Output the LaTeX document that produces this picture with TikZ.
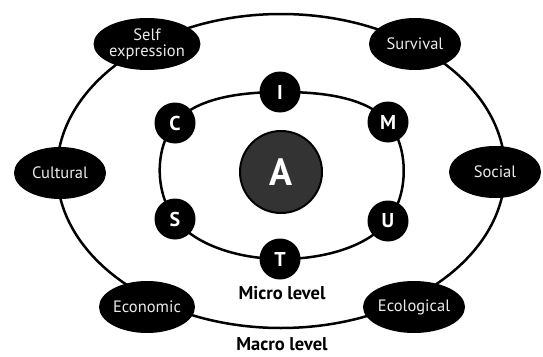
\documentclass[tikz,border=0pt]{standalone}
\usepackage{fontspec}
\setmainfont{PT Sans}
\setsansfont{PT Sans}
\usetikzlibrary{shapes.geometric,backgrounds}
\begin{document}
\begin{tikzpicture}[x=1pt,y=-1pt,
  ring/.style={line width=2.5pt, black},
  macro/.style={ellipse, fill=black, text=white!92!black, minimum width=92pt, minimum height=52pt, inner sep=0pt, font=\fontsize{16.5}{16}\selectfont, align=center},
  micro/.style={circle, fill=black, text=white, minimum size=41pt, inner sep=0pt, font=\fontsize{20}{20}\selectfont\bfseries},
  core/.style={circle, fill=black!80, draw=black, line width=2pt, text=white, minimum size=82pt, inner sep=0pt, font=\fontsize{38}{38}\selectfont\bfseries},
  lvl/.style={font=\fontsize{18.5}{19}\selectfont\bfseries, text=black}]
\useasboundingbox (0,0) rectangle (543,356);
% inner nodes
\node[micro] (I) at (280,92) {I};
\node[micro] (M) at (388,122) {M};
\node[micro] (U) at (388,221) {U};
\node[micro] (T) at (280,259) {T};
\node[micro] (S) at (175,219) {S};
\node[micro] (C) at (175,123) {C};
\node[core] (A) at (281,172) {A};
% outer nodes
\node[macro] (self) at (147,44) {Self\\expression};
\node[macro] (surv) at (415,44) {Survival};
\node[macro] (cult) at (60,173) {Cultural};
\node[macro] (soc) at (495,172) {Social};
\node[macro] (econ) at (147,307) {Economic};
\node[macro] (ecol) at (414,307) {Ecological};
% labels
\node[lvl] (micro) at (282,293) {Micro level};
\node[lvl] (macro) at (282,344) {Macro level};
\begin{scope}[on background layer]
  \fill[white] (0,0) rectangle (543,356);
  \coordinate (oc) at (281,171);
  \draw[ring] (oc) ellipse [x radius=224pt, y radius=157pt];
  \draw[ring] plot[smooth cycle, tension=0.7] coordinates {(I.center) (M.center) (U.center) (T.center) (S.center) (C.center)};
\end{scope}
\end{tikzpicture}
\end{document}
